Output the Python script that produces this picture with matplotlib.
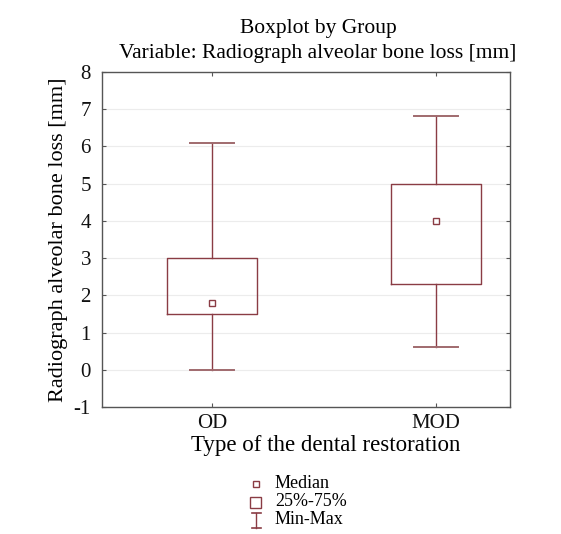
import matplotlib
matplotlib.use("Agg")
import matplotlib.pyplot as plt
from matplotlib.lines import Line2D
from matplotlib.patches import Rectangle

categories = ["OD", "MOD"]
medians = [1.8, 4.0]
q1 = [1.5, 2.3]
q3 = [3.0, 5.0]
mins = [0.0, 0.6]
maxs = [6.1, 6.82]
yticks = [-1, 0, 1, 2, 3, 4, 5, 6, 7, 8]

plt.rcParams['font.family'] = ['Liberation Serif', 'DejaVu Serif']
plt.rcParams['axes.unicode_minus'] = False

edge = "#8a3c44"
fig = plt.figure(figsize=(5.61, 5.34), dpi=100)
ax = fig.add_axes([0.182, 0.238, 0.727, 0.627])

stats = []
for i, c in enumerate(categories):
    stats.append(dict(label=c, med=medians[i], q1=q1[i], q3=q3[i],
                      whislo=mins[i], whishi=maxs[i], fliers=[]))
positions = [1, 2]
ax.bxp(stats, positions=positions, widths=0.40, showfliers=False,
       showcaps=True, capwidths=0.195,
       boxprops=dict(color=edge, linewidth=1.0),
       whiskerprops=dict(color=edge, linewidth=1.0),
       capprops=dict(color="#a06a6e", linewidth=1.4),
       medianprops=dict(linewidth=0), zorder=3)
ax.plot(positions, medians, linestyle="none", marker="s", markersize=4,
        markerfacecolor="white", markeredgecolor=edge, markeredgewidth=1.0, zorder=4)

ax.set_xlim(0.51, 2.33)
ax.set_ylim(-1, 8)
ax.set_yticks(yticks)
ax.set_xticks(positions)
ax.set_xticklabels(categories)
ax.grid(axis="y", color="#ececec", linewidth=0.8, zorder=0)
ax.set_axisbelow(True)
for s in ax.spines.values():
    s.set_color("#555555")
    s.set_linewidth(1.0)
ax.tick_params(direction="in", length=3, color="#555555", labelsize=15, top=True, right=True,
               labelcolor="#111111")
ax.tick_params(axis="x", pad=5)
ax.tick_params(axis="y", pad=8)
ax.set_xlabel("Type of the dental restoration", fontsize=16.5)
ax.xaxis.set_label_coords(0.547, -0.085)
ax.set_ylabel("Radiograph alveolar bone loss [mm]", fontsize=16, labelpad=4)
fig.text((318) / 561, 1 - 58 / 534, "Boxplot by Group\nVariable: Radiograph alveolar bone loss [mm]",
         fontsize=15.5, linespacing=1.4, ha="center", va="baseline", multialignment="center")

# legend
lx = 256 / 561
tx = 275 / 561
fig.text(tx, 1 - 484 / 534, "Median", fontsize=13, va="center")
fig.text(tx, 1 - 502 / 534, "25%-75%", fontsize=13, va="center")
fig.text(tx, 1 - 520 / 534, "Min-Max", fontsize=13, va="center")
fig.add_artist(Line2D([lx], [1 - 484 / 534], marker="s", markersize=4, markerfacecolor="white",
                      markeredgecolor=edge, linestyle="none", transform=fig.transFigure))
fig.add_artist(Rectangle((lx - 5.5 / 561, 1 - 508 / 534), 11 / 561, 11 / 534, facecolor="white",
                         edgecolor=edge, linewidth=1.0, transform=fig.transFigure))
y0 = 1 - 528 / 534
y1 = 1 - 513 / 534
fig.add_artist(Line2D([lx, lx], [y0, y1], color=edge, linewidth=1.0, transform=fig.transFigure))
fig.add_artist(Line2D([lx - 4.5 / 561, lx + 4.5 / 561], [y0, y0], color=edge, linewidth=1.2, transform=fig.transFigure))
fig.add_artist(Line2D([lx - 4.5 / 561, lx + 4.5 / 561], [y1, y1], color=edge, linewidth=1.2, transform=fig.transFigure))

fig.savefig("out.png", dpi=100, facecolor="white")
